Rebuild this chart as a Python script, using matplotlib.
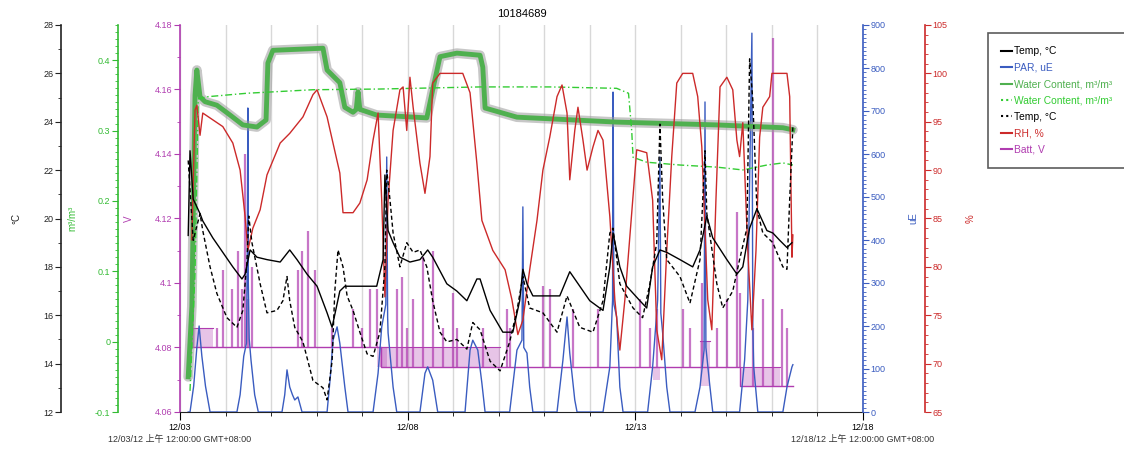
import numpy as np
import matplotlib.pyplot as plt
from matplotlib.ticker import MultipleLocator, FuncFormatter
from matplotlib.lines import Line2D
from matplotlib.transforms import blended_transform_factory

plt.rcParams['font.family'] = ['Liberation Sans', 'Noto Sans CJK SC', 'DejaVu Sans']

# time axis: days since 12/03 00:00
day_ticks = [0, 5, 10, 15]
day_labels = ['12/03', '12/08', '12/13', '12/18']
start_text = '12/03/12 上午 12:00:00 GMT+08:00'
end_text = '12/18/12 上午 12:00:00 GMT+08:00'
title = '10184689'

# Temp, °C (solid)
temp1 = [(0.18, 19.3), (0.22, 22.8), (0.29, 20.8), (0.44, 20.2), (0.50, 19.9), (0.72, 19.2),
         (0.94, 18.6), (1.16, 18.0), (1.36, 17.5), (1.43, 17.7), (1.54, 18.7), (1.69, 18.4),
         (1.91, 18.3), (2.20, 18.2), (2.41, 18.7), (2.57, 18.3), (2.79, 17.7), (3.01, 17.2),
         (3.23, 16.1), (3.34, 15.5), (3.51, 17.0), (3.62, 17.2), (4.32, 17.2), (4.46, 18.3),
         (4.50, 21.8), (4.57, 19.5), (4.68, 19.0), (4.83, 18.4), (5.05, 18.2), (5.27, 18.3),
         (5.44, 18.7), (5.55, 18.4), (5.86, 17.3), (6.08, 17.0), (6.30, 16.6), (6.52, 17.5),
         (6.59, 17.5), (6.81, 16.2), (7.09, 15.3), (7.31, 15.3), (7.46, 16.6), (7.53, 17.9),
         (7.62, 17.3), (7.75, 16.8), (8.34, 16.8), (8.56, 17.8), (8.78, 17.2), (9.00, 16.6),
         (9.29, 16.2), (9.44, 18.0), (9.51, 19.4), (9.66, 18.0), (9.81, 17.2), (10.10, 16.6),
         (10.25, 16.3), (10.38, 18.0), (10.54, 18.7), (10.69, 18.6), (10.98, 18.3), (11.26, 18.0),
         (11.42, 18.7), (11.57, 20.1), (11.70, 19.2), (12.01, 18.3), (12.23, 17.7), (12.36, 18.0),
         (12.51, 19.6), (12.67, 20.4), (12.89, 19.5), (13.02, 19.4), (13.17, 19.1), (13.33, 18.8),
         (13.44, 19.0)]

# Temp, °C (dotted)
temp2 = [(0.18, 22.4), (0.29, 19.1), (0.44, 20.2), (0.50, 19.5), (0.66, 18.0), (0.81, 16.9),
         (1.03, 15.9), (1.25, 15.5), (1.38, 16.2), (1.47, 18.2), (1.51, 20.1), (1.58, 19.0),
         (1.76, 17.3), (1.91, 16.1), (2.13, 16.2), (2.26, 16.6), (2.35, 17.6), (2.41, 16.6),
         (2.52, 15.5), (2.70, 14.9), (2.92, 13.3), (3.14, 13.0), (3.23, 12.5), (3.34, 14.1),
         (3.40, 17.0), (3.47, 18.7), (3.58, 18.0), (3.67, 16.8), (3.80, 16.2), (3.95, 15.3),
         (4.11, 14.4), (4.24, 14.3), (4.39, 15.3), (4.50, 18.0), (4.54, 22.0), (4.61, 20.8),
         (4.68, 19.4), (4.83, 18.0), (4.98, 19.0), (5.12, 18.6), (5.27, 18.7), (5.42, 18.0),
         (5.55, 16.6), (5.71, 15.3), (5.86, 14.9), (6.08, 15.0), (6.30, 14.6), (6.43, 15.7),
         (6.59, 15.4), (6.81, 14.1), (7.03, 13.7), (7.24, 14.9), (7.40, 16.2), (7.53, 17.6),
         (7.68, 16.3), (7.97, 16.1), (8.28, 15.3), (8.50, 16.8), (8.78, 15.5), (9.07, 15.3),
         (9.29, 16.6), (9.44, 19.4), (9.51, 19.6), (9.66, 17.3), (9.95, 16.3), (10.16, 15.9),
         (10.32, 17.3), (10.47, 19.0), (10.54, 23.9), (10.60, 20.8), (10.69, 18.3), (10.98, 17.6),
         (11.20, 16.5), (11.42, 18.3), (11.53, 22.8), (11.57, 20.2), (11.79, 17.3), (11.92, 16.3),
         (12.14, 17.0), (12.29, 18.3), (12.45, 19.6), (12.51, 26.6), (12.58, 24.9), (12.67, 20.4),
         (12.80, 19.4), (13.02, 19.0), (13.24, 18.0), (13.33, 17.9), (13.39, 20.8), (13.46, 23.8)]

# PAR, uE
par = [(0.18, 0), (0.22, 0), (0.30, 60), (0.37, 150), (0.42, 200), (0.48, 130), (0.56, 60), (0.66, 0),
       (1.25, 0), (1.32, 40), (1.40, 130), (1.46, 160), (1.48, 400), (1.49, 707), (1.50, 300),
       (1.52, 170), (1.56, 120), (1.64, 40), (1.72, 0),
       (2.24, 0), (2.30, 40), (2.35, 98), (2.41, 58), (2.47, 40), (2.52, 28), (2.59, 35), (2.68, 0),
       (3.23, 0), (3.30, 80), (3.36, 167), (3.45, 198), (3.51, 160), (3.62, 58), (3.69, 0),
       (4.24, 0), (4.35, 90), (4.43, 198), (4.52, 250), (4.54, 593), (4.56, 220), (4.57, 184),
       (4.68, 58), (4.76, 0),
       (5.27, 0), (5.38, 90), (5.44, 105), (5.55, 74), (5.66, 0),
       (6.26, 0), (6.37, 144), (6.43, 167), (6.54, 144), (6.63, 67), (6.70, 0),
       (7.24, 0), (7.40, 144), (7.51, 167), (7.53, 477), (7.55, 150), (7.62, 137), (7.68, 58), (7.75, 0),
       (8.28, 0), (8.41, 121), (8.50, 221), (8.56, 137), (8.67, 28), (8.72, 0),
       (9.29, 0), (9.44, 105), (9.50, 260), (9.51, 744), (9.53, 250), (9.59, 221), (9.66, 58), (9.73, 0),
       (10.27, 0), (10.38, 105), (10.49, 260), (10.54, 593), (10.56, 230), (10.60, 184),
       (10.69, 58), (10.76, 0),
       (11.31, 0), (11.42, 58), (11.51, 144), (11.53, 721), (11.55, 150), (11.63, 67), (11.70, 0),
       (12.29, 0), (12.40, 121), (12.47, 260), (12.56, 881), (12.58, 200), (12.60, 105), (12.69, 0),
       (13.24, 0), (13.33, 58), (13.44, 105), (13.46, 110)]

# Water Content, m³/m³ (solid)
water1 = [(0.18, -0.05), (0.26, 0.05), (0.33, 0.35), (0.37, 0.386), (0.44, 0.348), (0.55, 0.341),
          (0.81, 0.336), (1.10, 0.322), (1.38, 0.308), (1.69, 0.305), (1.89, 0.315), (1.93, 0.396),
          (2.04, 0.414), (3.14, 0.417), (3.23, 0.386), (3.51, 0.368), (3.62, 0.333), (3.80, 0.326),
          (3.87, 0.33), (3.91, 0.355), (3.95, 0.33), (4.00, 0.329), (4.32, 0.322), (5.42, 0.318),
          (5.55, 0.358), (5.71, 0.405), (6.08, 0.410), (6.59, 0.407), (6.65, 0.390), (6.70, 0.332),
          (7.40, 0.319), (9.59, 0.312), (11.79, 0.308), (13.24, 0.304), (13.46, 0.301)]

# Water Content, m³/m³ (dotted)
water2 = [(0.22, -0.07), (0.33, 0.10), (0.40, 0.345), (0.59, 0.348), (1.47, 0.353), (2.92, 0.358),
          (4.39, 0.359), (6.59, 0.362), (8.12, 0.362), (9.59, 0.360), (9.85, 0.353), (9.92, 0.30),
          (9.95, 0.262), (10.25, 0.255), (10.98, 0.251), (11.79, 0.248), (12.36, 0.244),
          (12.89, 0.251), (13.24, 0.254), (13.46, 0.251)]

# RH, %
rh = [(0.26, 82.8), (0.33, 96.2), (0.37, 96.7), (0.44, 93.6), (0.50, 95.9), (0.72, 95.2), (0.94, 94.5),
      (1.16, 92.8), (1.32, 90.0), (1.43, 85.2), (1.49, 81.7), (1.60, 84.0), (1.76, 85.9), (1.91, 89.5),
      (2.20, 92.8), (2.41, 93.8), (2.70, 95.5), (2.92, 97.8), (3.01, 98.3), (3.23, 95.5), (3.36, 92.8),
      (3.51, 89.7), (3.58, 85.6), (3.80, 85.6), (3.95, 86.6), (4.11, 89.0), (4.24, 93.1), (4.35, 95.9),
      (4.43, 86.9), (4.50, 76.9), (4.57, 86.9), (4.68, 94.1), (4.83, 98.3), (4.90, 98.6), (4.98, 94.1),
      (5.05, 99.6), (5.12, 96.5), (5.27, 90.7), (5.38, 87.6), (5.49, 91.4), (5.55, 99.0), (5.71, 100.0),
      (6.21, 100.0), (6.37, 98.0), (6.52, 90.7), (6.63, 84.8), (6.87, 81.7), (7.14, 79.7), (7.29, 76.6),
      (7.42, 73.0), (7.53, 74.5), (7.68, 79.7), (7.84, 84.8), (7.97, 90.0), (8.12, 93.4), (8.28, 97.6),
      (8.39, 98.8), (8.50, 95.9), (8.56, 89.0), (8.67, 94.1), (8.74, 96.5), (8.85, 93.1), (8.94, 90.0),
      (9.07, 92.4), (9.18, 94.1), (9.29, 93.1), (9.44, 85.2), (9.55, 76.6), (9.66, 71.4), (9.77, 76.6),
      (10.03, 92.1), (10.25, 91.8), (10.38, 86.9), (10.47, 73.5), (10.58, 70.4), (10.69, 81.7),
      (10.80, 91.4), (10.91, 99.0), (11.04, 100.0), (11.26, 100.0), (11.37, 97.6), (11.46, 92.4),
      (11.59, 76.6), (11.68, 73.5), (11.77, 86.9), (11.86, 98.6), (12.01, 99.6), (12.14, 98.3),
      (12.23, 93.1), (12.29, 91.4), (12.36, 94.9), (12.47, 81.7), (12.56, 73.5), (12.65, 81.7),
      (12.73, 93.4), (12.80, 96.5), (12.95, 97.6), (13.00, 100.0), (13.33, 100.0), (13.39, 97.6),
      (13.44, 81.0), (13.46, 83.3)]

# Batt, V: base level steps, short spikes, and flicker bands
batt_lvl_t = [0.26, 4.42, 12.30, 13.46]
batt_lvl_v = [4.080, 4.074, 4.068, 4.068]
batt_spike_t = [0.29, 0.81, 0.94, 1.14, 1.27, 1.36, 1.43, 1.49, 1.58, 2.59, 2.68, 2.81, 2.96, 3.34,
                3.80, 4.00, 4.17, 4.32, 4.76, 4.87, 4.98, 5.12, 5.33, 5.55, 5.77, 5.99, 6.08, 6.65,
                7.18, 7.24, 7.97, 8.12, 8.63, 9.18, 10.10, 10.32, 10.47, 11.04, 11.20, 11.46, 11.79,
                12.01, 12.23, 12.29, 12.58, 12.80, 13.02, 13.22, 13.33]
batt_spike_v = [4.138, 4.086, 4.104, 4.098, 4.110, 4.098, 4.140, 4.095, 4.105, 4.104, 4.110, 4.116,
                4.104, 4.086, 4.092, 4.086, 4.098, 4.098, 4.098, 4.102, 4.086, 4.095, 4.108, 4.110,
                4.086, 4.097, 4.086, 4.086, 4.092, 4.086, 4.099, 4.098, 4.092, 4.092, 4.095, 4.086,
                4.092, 4.092, 4.086, 4.100, 4.086, 4.095, 4.122, 4.097, 4.086, 4.095, 4.176, 4.092,
                4.086]
band_t0 = [0.29, 4.32, 4.40, 10.38, 11.42, 12.30]
band_t1 = [0.72, 4.54, 7.02, 10.54, 11.64, 13.17]
band_lo = [4.080, 4.074, 4.074, 4.070, 4.068, 4.068]
band_hi = [4.086, 4.080, 4.080, 4.074, 4.082, 4.074]

c_temp = 'black'
c_par = '#3a5cc0'
c_water = '#4fb04f'
c_water2 = '#33cc33'
c_rh = '#cc2a2a'
c_batt = '#b03cb0'
c_green_ax = '#33bb33'

fig = plt.figure(figsize=(11.24, 4.5), dpi=100)
ax = fig.add_axes([180 / 1124, 38 / 450, 683 / 1124, 387 / 450])
ax_p = ax.twinx()
ax_w = ax.twinx()
ax_r = ax.twinx()
ax_t = ax.twinx()


def unzip(pairs):
    return [p[0] for p in pairs], [p[1] for p in pairs]


def batt_base(t):
    lvl = batt_lvl_v[0]
    for tt, vv in zip(batt_lvl_t, batt_lvl_v):
        if t >= tt:
            lvl = vv
    return lvl


# --- battery (base axes)
ax.step(batt_lvl_t, batt_lvl_v, where='post', color=c_batt, lw=1)
for t0, t1, lo, hi in zip(band_t0, band_t1, band_lo, band_hi):
    ax.fill_between([t0, t1], lo, hi, color=c_batt, alpha=0.3, lw=0)
    ax.plot([t0, t1], [hi, hi], color=c_batt, lw=0.8)
ax.vlines(batt_spike_t, [batt_base(t) for t in batt_spike_t], batt_spike_v,
          color=c_batt, lw=1.6, alpha=0.7)

# --- PAR
t, v = unzip(par)
ax_p.plot(t, v, color=c_par, lw=1)

# --- water content
t, v = unzip(water1)
ax_w.plot(t, v, color='#9a9a9a', lw=7, alpha=0.55, solid_capstyle='round', solid_joinstyle='round')
ax_w.plot(t, v, color=c_water, lw=3.5, solid_joinstyle='round')
t, v = unzip(water2)
ax_w.plot(t, v, color=c_water2, lw=1, linestyle=(0, (5, 2, 1, 2)))

# --- RH
t, v = unzip(rh)
ax_r.plot(t, v, color=c_rh, lw=1)

# --- temperatures
t, v = unzip(temp2)
ax_t.plot(t, v, color=c_temp, lw=1, linestyle=(0, (3, 2)))
t, v = unzip(temp1)
ax_t.plot(t, v, color=c_temp, lw=1)

# --- axes setup
ax.set_xlim(0, 15)
ax.set_ylim(4.06, 4.18)
ax_t.set_ylim(12, 28)
ax_w.set_ylim(-0.1, 0.45)
ax_p.set_ylim(0, 900)
ax_r.set_ylim(65, 105)

ax.set_xticks(day_ticks)
ax.set_xticklabels(day_labels)
ax.xaxis.set_minor_locator(MultipleLocator(1))
ax.grid(which='both', axis='x', color='#d8d8d8', lw=1)
ax.set_axisbelow(True)
ax.tick_params(axis='x', which='major', length=6, labelsize=6.5, pad=2)
ax.tick_params(axis='x', which='minor', length=3)

for a in (ax, ax_t, ax_w, ax_p, ax_r):
    for s in a.spines.values():
        s.set_visible(False)
ax.spines['bottom'].set_visible(True)
ax.spines['bottom'].set_color('#222222')


def setup_y(a, side, pos, color, major, minor, fmt, label, label_x):
    a.spines[side].set_visible(True)
    a.spines[side].set_position(('axes', pos))
    a.spines[side].set_color(color)
    a.spines[side].set_linewidth(1.2)
    if side == 'left':
        a.yaxis.tick_left()
        a.yaxis.set_label_position('left')
    else:
        a.yaxis.tick_right()
        a.yaxis.set_label_position('right')
    a.yaxis.set_major_locator(MultipleLocator(major))
    a.yaxis.set_minor_locator(MultipleLocator(minor))
    a.yaxis.set_major_formatter(FuncFormatter(fmt))
    a.tick_params(axis='y', which='major', colors=color, length=4, labelsize=6.5, pad=1.5)
    a.tick_params(axis='y', which='minor', colors=color, length=2)
    a.set_ylabel(label, color=color, fontsize=7)
    a.yaxis.set_label_coords(label_x, 0.5)


setup_y(ax_t, 'left', -0.1742, '#222222', 2, 1, lambda x, p: '%g' % x, '°C', -0.232)
setup_y(ax_w, 'left', -0.0908, c_green_ax, 0.1, 0.01,
        lambda x, p: '%g' % round(x, 2) if x < 0.44 else '', 'm³/m³', -0.150)
setup_y(ax, 'left', 0.0, c_batt, 0.02, 0.01, lambda x, p: '%g' % round(x, 2), 'V', -0.068)
setup_y(ax_p, 'right', 1.0, c_par, 100, 10, lambda x, p: '%g' % x, 'uE', 1.066)
setup_y(ax_r, 'right', 1.0908, c_rh, 5, 1, lambda x, p: '%g' % x, '%', 1.150)

ax.set_title(title, fontsize=8, pad=6)

tr = blended_transform_factory(ax.transData, ax.transAxes)
ax.text(day_ticks[0], -0.072, start_text, transform=tr, ha='center', va='center',
        fontsize=6.5, color='#333333')
ax.text(day_ticks[-1], -0.072, end_text, transform=tr, ha='center', va='center',
        fontsize=6.5, color='#333333')

# --- legend
handles = [Line2D([], [], color=c_temp, lw=1.5),
           Line2D([], [], color=c_par, lw=1.5),
           Line2D([], [], color=c_water, lw=1.5),
           Line2D([], [], color=c_water2, lw=1.5, linestyle=(0, (1, 1.5))),
           Line2D([], [], color=c_temp, lw=1.5, linestyle=(0, (1, 1.5))),
           Line2D([], [], color=c_rh, lw=1.5),
           Line2D([], [], color=c_batt, lw=1.5)]
labels = ['Temp, °C', 'PAR, uE', 'Water Content, m³/m³', 'Water Content, m³/m³',
          'Temp, °C', 'RH, %', 'Batt, V']
text_colors = [c_temp, c_par, c_water, c_water2, c_temp, c_rh, c_batt]
leg = fig.legend(handles, labels, loc='upper left', bbox_to_anchor=(988 / 1124, 1 - 33 / 450),
                 fontsize=7.4, frameon=True, fancybox=False, edgecolor='#333333',
                 handlelength=1.0, handletextpad=0.2, labelspacing=0.62, borderpad=1.3,
                 borderaxespad=0)
leg.get_frame().set_linewidth(1.2)
for txt, c in zip(leg.get_texts(), text_colors):
    txt.set_color(c)

fig.savefig('out.png', dpi=100)
